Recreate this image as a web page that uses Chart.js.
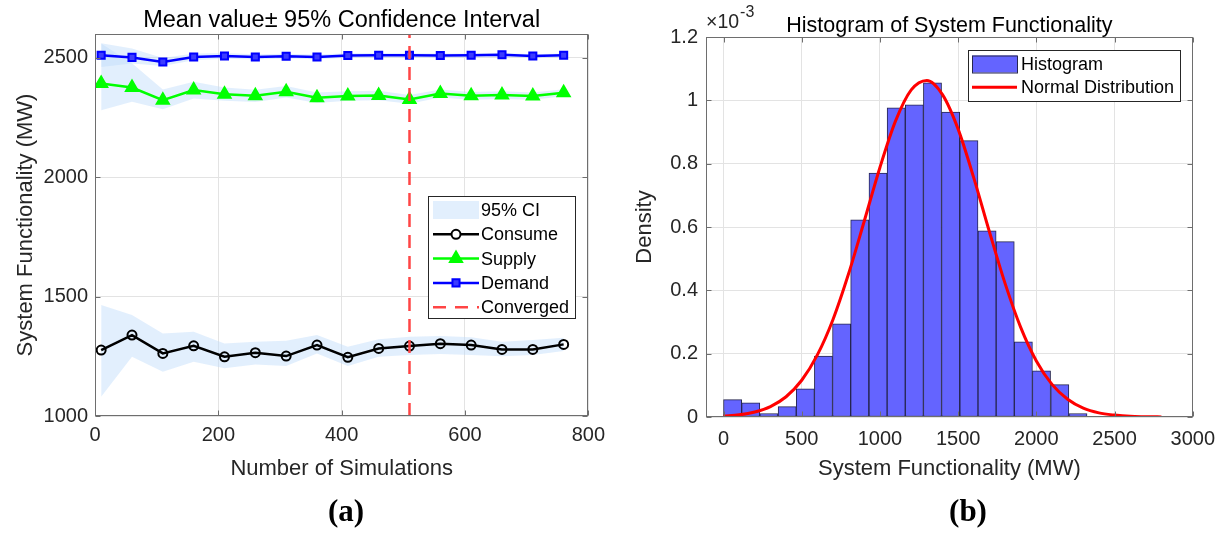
<!DOCTYPE html>
<html lang="en">
<head>
<meta charset="UTF-8" />
<title>System Functionality</title>
<script src="https://cdn.jsdelivr.net/npm/chart.js"></script>
<style>
  body { margin: 0; background: #fff; width: 1225px; height: 533px; position: relative; overflow: hidden; }
  #chartA { position: absolute; left: 0; top: 0; }
  #chartB { position: absolute; left: 612px; top: 0; }
  .panel-tag {
    position: absolute; top: 493px; line-height: 36px;
    font: bold 31px "Liberation Serif", "Times New Roman", serif; color: #000;
    transform: translateX(-50%);
  }
</style>
</head>
<body>
<canvas id="chartA" width="612" height="533"></canvas>
<canvas id="chartB" width="613" height="533"></canvas>
<div class="panel-tag" style="left:346px">(a)</div>
<div class="panel-tag" style="left:968px">(b)</div>

<script>
  // ---------- (a) mean value and 95% CI ----------
  const simCounts = [10, 60, 110, 160, 210, 260, 310, 360, 410, 460, 510, 560, 610, 660, 710, 760];

  const consumeMean = [1276, 1339, 1262, 1294, 1248, 1265, 1251, 1297, 1246, 1283, 1293, 1303, 1297, 1279, 1279, 1300];
  const consumeLow  = [1081, 1248, 1185, 1227, 1200, 1216, 1209, 1262, 1209, 1248, 1255, 1260, 1255, 1250, 1255, 1272];
  const consumeHigh = [1465, 1423, 1346, 1353, 1304, 1311, 1315, 1339, 1290, 1321, 1332, 1335, 1330, 1311, 1318, 1328];

  const supplyMean = [2393, 2376, 2323, 2365, 2348, 2341, 2358, 2333, 2340, 2342, 2326, 2351, 2341, 2344, 2340, 2354];
  const supplyLow  = [2281, 2316, 2285, 2330, 2320, 2315, 2334, 2311, 2320, 2322, 2308, 2334, 2325, 2328, 2325, 2339];
  const supplyHigh = [2560, 2477, 2368, 2400, 2376, 2367, 2382, 2355, 2360, 2362, 2344, 2368, 2357, 2360, 2355, 2369];

  const demandMean = [2511, 2502, 2483, 2504, 2508, 2504, 2507, 2504, 2510, 2511, 2511, 2510, 2511, 2513, 2508, 2511];
  const demandLow  = [2462, 2476, 2466, 2490, 2496, 2493, 2497, 2494, 2501, 2503, 2503, 2502, 2504, 2506, 2501, 2504];
  const demandHigh = [2561, 2539, 2500, 2518, 2520, 2515, 2517, 2514, 2519, 2519, 2519, 2518, 2518, 2520, 2515, 2518];

  const convergedAt = 510;
  const xTicksA = [0, 200, 400, 600, 800];
  const yTicksA = [1000, 1500, 2000, 2500];

  // ---------- (b) histogram (density in units of 1e-3) ----------
  const binCenters = [58, 174, 290, 407, 523, 639, 755, 871, 988, 1104, 1220, 1336, 1452, 1569, 1685, 1801, 1917, 2033, 2150, 2266];
  const binDensity = [0.055, 0.045, 0.011, 0.033, 0.089, 0.192, 0.294, 0.623, 0.770, 0.976, 0.986, 1.055, 0.963, 0.873, 0.588, 0.554, 0.237, 0.146, 0.102, 0.011];

  const normalX = [0, 100, 200, 300, 400, 500, 600, 700, 800, 900, 1000, 1100, 1200, 1300, 1400,
                   1500, 1600, 1700, 1800, 1900, 2000, 2100, 2200, 2300, 2400, 2500, 2600, 2700, 2800];
  const normalY = [0.003, 0.007, 0.016, 0.033, 0.064, 0.116, 0.196, 0.308, 0.453, 0.619, 0.788, 0.935, 1.033, 1.063, 1.018,
                   0.909, 0.755, 0.585, 0.422, 0.283, 0.177, 0.103, 0.056, 0.028, 0.013, 0.006, 0.002, 0.001, 0.0003];

  const xTicksB = [0, 500, 1000, 1500, 2000, 2500, 3000];
  const yTicksB = [0, 0.2, 0.4, 0.6, 0.8, 1, 1.2];

  // ---------- shared look ----------
  const FONT = '"Liberation Sans", Arial, Helvetica, sans-serif';
  Chart.defaults.font.family = FONT;
  Chart.defaults.color = '#262626';
  const gridColor = '#e3e3e3';
  const bandColor = 'rgba(190, 220, 250, 0.45)';

  function pairs(xs, ys) {
    return xs.map((x, i) => ({ x: x, y: ys[i] }));
  }

  function plainNumber(v) {
    return String(Math.round(v * 10) / 10);
  }

  function drawMarker(ctx, style, x, y, r, stroke, fill) {
    ctx.beginPath();
    if (style === 'circle') {
      ctx.arc(x, y, r, 0, Math.PI * 2);
    } else if (style === 'triangle') {
      for (let k = 0; k < 3; k++) {
        const a = -Math.PI / 2 + k * 2 * Math.PI / 3;
        const px = x + Math.cos(a) * r, py = y + Math.sin(a) * r;
        k === 0 ? ctx.moveTo(px, py) : ctx.lineTo(px, py);
      }
      ctx.closePath();
    } else if (style === 'rect') {
      const s = Math.SQRT1_2 * r;
      ctx.rect(x - s, y - s, 2 * s, 2 * s);
    }
    if (fill) { ctx.fillStyle = fill; ctx.fill(); }
    ctx.lineWidth = 2;
    ctx.strokeStyle = stroke;
    ctx.stroke();
  }

  // title centred over the plot area (not over the whole canvas)
  const plotTitle = {
    id: 'plotTitle',
    afterDraw(chart, args, opts) {
      const { ctx, chartArea: a } = chart;
      ctx.save();
      ctx.fillStyle = '#000';
      ctx.font = opts.size + 'px ' + FONT;
      ctx.textAlign = 'center';
      ctx.textBaseline = 'alphabetic';
      ctx.fillText(opts.text, (a.left + a.right) / 2, a.top - opts.gap);
      ctx.restore();
    }
  };

  // box around the plot area, with inward ticks on all four sides (MATLAB style)
  const frame = {
    id: 'frame',
    afterDatasetsDraw(chart) {
      const { ctx, chartArea: a, scales } = chart;
      const L = Math.round(a.left) + 0.5, R = Math.round(a.right) - 0.5;
      const T = Math.round(a.top) + 0.5, B = Math.round(a.bottom) - 0.5;
      ctx.save();
      ctx.strokeStyle = '#6e6e6e';
      ctx.lineWidth = 1;
      ctx.strokeRect(L, T, R - L, B - T);
      ctx.beginPath();
      scales.x.ticks.forEach(t => {
        const px = Math.round(scales.x.getPixelForValue(t.value)) + 0.5;
        ctx.moveTo(px, B); ctx.lineTo(px, B - 5);
        ctx.moveTo(px, T); ctx.lineTo(px, T + 5);
      });
      scales.y.ticks.forEach(t => {
        const py = Math.round(scales.y.getPixelForValue(t.value)) + 0.5;
        ctx.moveTo(L, py); ctx.lineTo(L + 5, py);
        ctx.moveTo(R, py); ctx.lineTo(R - 5, py);
      });
      ctx.stroke();
      ctx.restore();
    }
  };

  // legend box drawn inside the plot area
  const boxLegend = {
    id: 'boxLegend',
    afterDraw(chart, args, opts) {
      if (!opts.items) return;
      const { ctx, chartArea: a } = chart;
      const x0 = Math.round(a.right - opts.right - opts.width);
      const y0 = Math.round(opts.top !== undefined ? a.top + opts.top : a.bottom - opts.bottom - opts.height);
      ctx.save();
      ctx.fillStyle = '#fff';
      ctx.fillRect(x0, y0, opts.width, opts.height);
      ctx.strokeStyle = '#262626';
      ctx.lineWidth = 1;
      ctx.strokeRect(x0 + 0.5, y0 + 0.5, opts.width, opts.height);
      opts.items.forEach((it, i) => {
        const cy = y0 + opts.firstRow + i * opts.rowStep;
        const sx0 = x0 + opts.sampleLeft, sx1 = x0 + opts.sampleRight;
        if (it.patch) {
          ctx.fillStyle = it.patch;
          ctx.fillRect(sx0, cy - it.patchH / 2, sx1 - sx0, it.patchH);
          if (it.edge) {
            ctx.strokeStyle = it.edge;
            ctx.lineWidth = 1;
            ctx.strokeRect(sx0 + 0.5, cy - it.patchH / 2 + 0.5, sx1 - sx0, it.patchH);
          }
        } else {
          ctx.beginPath();
          ctx.setLineDash(it.dash || []);
          ctx.strokeStyle = it.color;
          ctx.lineWidth = it.width || 2.5;
          ctx.moveTo(sx0, cy); ctx.lineTo(sx1, cy);
          ctx.stroke();
          ctx.setLineDash([]);
          if (it.marker) drawMarker(ctx, it.marker, (sx0 + sx1) / 2, cy, it.r, it.color, it.fill);
        }
        ctx.fillStyle = '#000';
        ctx.font = '18px ' + FONT;
        ctx.textBaseline = 'middle';
        ctx.fillText(it.label, x0 + opts.textLeft, cy + 1);
      });
      ctx.restore();
    }
  };

  // the x10^-3 multiplier above the density axis
  const exponent = {
    id: 'exponent',
    afterDraw(chart) {
      const { ctx, chartArea: a } = chart;
      ctx.save();
      ctx.fillStyle = '#262626';
      ctx.textBaseline = 'alphabetic';
      ctx.font = '19.5px ' + FONT;
      ctx.fillText('×10', a.left, a.top - 9);
      const w = ctx.measureText('×10').width;
      ctx.font = '16px ' + FONT;
      ctx.fillText('-3', a.left + w + 1, a.top - 20);
      ctx.restore();
    }
  };

  function bandPair(low, high) {
    return [
      { data: pairs(simCounts, low), borderWidth: 0, pointRadius: 0, fill: false, order: 10 },
      { data: pairs(simCounts, high), borderWidth: 0, pointRadius: 0, fill: '-1', backgroundColor: bandColor, order: 10 }
    ];
  }

  // ---------- chart (a) ----------
  new Chart(document.getElementById('chartA'), {
    type: 'line',
    data: {
      datasets: [
        ...bandPair(consumeLow, consumeHigh),
        ...bandPair(supplyLow, supplyHigh),
        ...bandPair(demandLow, demandHigh),
        {
          label: 'Consume', data: pairs(simCounts, consumeMean),
          borderColor: '#000', borderWidth: 2.5, tension: 0,
          pointStyle: 'circle', pointRadius: 4.5, pointBorderWidth: 2,
          pointBorderColor: '#000', pointBackgroundColor: 'rgba(0,0,0,0)', order: 1
        },
        {
          label: 'Supply', data: pairs(simCounts, supplyMean),
          borderColor: '#00ff00', borderWidth: 2.5, tension: 0,
          pointStyle: 'triangle', pointRadius: 7, pointBorderWidth: 2,
          pointBorderColor: '#00ff00', pointBackgroundColor: '#00ff00', order: 1
        },
        {
          label: 'Demand', data: pairs(simCounts, demandMean),
          borderColor: '#0000ff', borderWidth: 2.5, tension: 0,
          pointStyle: 'rect', pointRadius: 5, pointBorderWidth: 2,
          pointBorderColor: '#0000ff', pointBackgroundColor: '#3c3cff', order: 1
        },
        {
          label: 'Converged', data: [{ x: convergedAt, y: 1000 }, { x: convergedAt, y: 2600 }],
          borderColor: '#ff4545', borderWidth: 2.5, borderDash: [13, 8], pointRadius: 0, order: 0
        }
      ]
    },
    options: {
      responsive: false,
      animation: false,
      layout: { padding: { left: 0, right: 22, top: 34, bottom: 40 } },
      plugins: {
        legend: { display: false },
        tooltip: { enabled: false },
        title: { display: false },
        plotTitle: { text: 'Mean value± 95% Confidence Interval', size: 23.5, gap: 7 },
        boxLegend: {
          right: 13, bottom: 98, width: 147, height: 122,
          firstRow: 14, rowStep: 24.3, sampleLeft: 5, sampleRight: 51, textLeft: 53,
          items: [
            { label: '95% CI', patch: bandColor, patchH: 18 },
            { label: 'Consume', color: '#000', marker: 'circle', r: 4.5, fill: '#fff' },
            { label: 'Supply', color: '#00ff00', marker: 'triangle', r: 7, fill: '#00ff00' },
            { label: 'Demand', color: '#0000ff', marker: 'rect', r: 5, fill: '#3c3cff' },
            { label: 'Converged', color: '#ff4545', dash: [13, 9] }
          ]
        }
      },
      scales: {
        x: {
          type: 'linear', min: 0, max: 800,
          afterBuildTicks: s => { s.ticks = xTicksA.map(v => ({ value: v })); },
          afterFit: s => { s.height = 77; },
          grid: { color: gridColor, drawTicks: false },
          border: { display: false },
          ticks: { font: { size: 20 }, padding: 7, callback: plainNumber },
          title: { display: true, text: 'Number of Simulations', font: { size: 22 }, padding: { top: 0, bottom: 11 } }
        },
        y: {
          type: 'linear', min: 1000, max: 2600,
          afterBuildTicks: s => { s.ticks = yTicksA.map(v => ({ value: v })); },
          afterFit: s => { s.width = 95; },
          grid: { color: gridColor, drawTicks: false },
          border: { display: false },
          ticks: { font: { size: 20 }, padding: 7, callback: plainNumber },
          title: { display: true, text: 'System Functionality (MW)', font: { size: 22 }, padding: { top: 13, bottom: 0 } }
        }
      }
    },
    plugins: [frame, boxLegend, plotTitle]
  });

  // ---------- chart (b) ----------
  new Chart(document.getElementById('chartB'), {
    type: 'bar',
    data: {
      datasets: [
        {
          type: 'line', label: 'Normal Distribution', data: pairs(normalX, normalY),
          borderColor: '#ff0000', borderWidth: 3, pointRadius: 0,
          cubicInterpolationMode: 'monotone', order: 0
        },
        {
          type: 'bar', label: 'Histogram', data: pairs(binCenters, binDensity),
          backgroundColor: '#6464ff', borderColor: '#26264f', borderWidth: 1,
          borderSkipped: false, barPercentage: 1, categoryPercentage: 1, order: 1
        }
      ]
    },
    options: {
      responsive: false,
      animation: false,
      layout: { padding: { left: 0, right: 29, top: 37, bottom: 40 } },
      plugins: {
        legend: { display: false },
        tooltip: { enabled: false },
        title: { display: false },
        plotTitle: { text: 'Histogram of System Functionality', size: 21.5, gap: 5 },
        boxLegend: {
          right: 13, top: 13, width: 212, height: 51,
          firstRow: 14, rowStep: 23.3, sampleLeft: 4, sampleRight: 49, textLeft: 53,
          items: [
            { label: 'Histogram', patch: '#6464ff', patchH: 17, edge: '#26264f' },
            { label: 'Normal Distribution', color: '#ff0000', width: 3 }
          ]
        }
      },
      scales: {
        x: {
          type: 'linear', min: -112, max: 3000, offset: false,
          afterBuildTicks: s => { s.ticks = xTicksB.map(v => ({ value: v })); },
          afterFit: s => { s.height = 76; },
          grid: { color: gridColor, drawTicks: false, offset: false },
          border: { display: false },
          ticks: { font: { size: 20 }, padding: 10, callback: plainNumber },
          title: { display: true, text: 'System Functionality (MW)', font: { size: 22 }, padding: { top: 0, bottom: 10.8 } }
        },
        y: {
          type: 'linear', min: 0, max: 1.2,
          afterBuildTicks: s => { s.ticks = yTicksB.map(v => ({ value: v })); },
          afterFit: s => { s.width = 94; },
          grid: { color: gridColor, drawTicks: false },
          border: { display: false },
          ticks: { font: { size: 20 }, padding: 8, callback: plainNumber },
          title: { display: true, text: 'Density', font: { size: 22 }, padding: { top: 19.8, bottom: 0 } }
        }
      }
    },
    plugins: [frame, boxLegend, exponent, plotTitle]
  });
</script>
</body>
</html>
